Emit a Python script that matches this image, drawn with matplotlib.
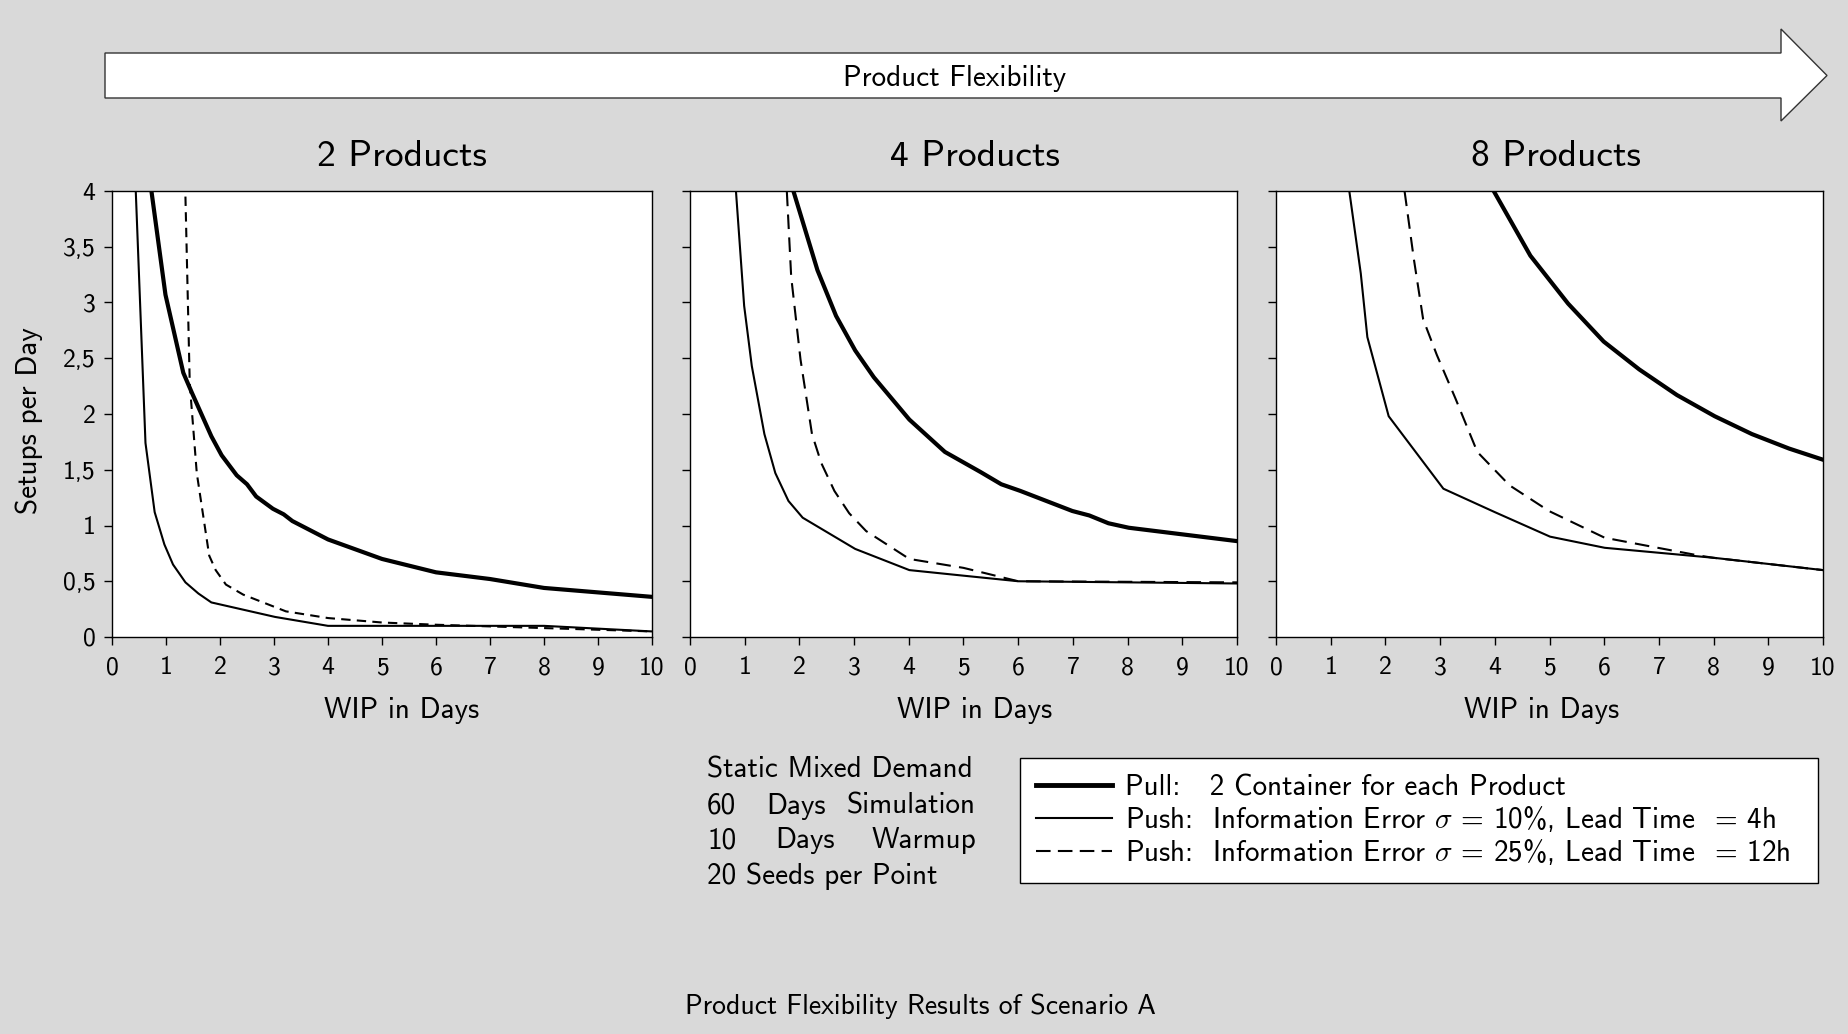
import matplotlib.pyplot as plt
from matplotlib.patches import Polygon
from matplotlib.lines import Line2D

plt.rcParams['font.family'] = ['cmss10', 'DejaVu Sans']
plt.rcParams['mathtext.fontset'] = 'cm'
plt.rcParams['axes.unicode_minus'] = False

W, H = 1849, 1034
BG = '#d9d9d9'

# panel titles and series labels
panel_titles = ['2 Products', '4 Products', '8 Products']
legend_labels = ['Pull:   2 Container for each Product',
                 r'Push:  Information Error $\sigma$ = 10%, Lead Time  = 4h',
                 r'Push:  Information Error $\sigma$ = 25%, Lead Time  = 12h']
ytick_vals = [0, 0.5, 1, 1.5, 2, 2.5, 3, 3.5, 4]
ytick_text = ['0', '0,5', '1', '1,5', '2', '2,5', '3', '3,5', '4']
xtick_vals = [0, 1, 2, 3, 4, 5, 6, 7, 8, 9, 10]

# 2 products
wip2_pull = [0.68, 0.73, 0.99, 1.32, 1.48, 1.84, 2.03, 2.31, 2.5, 2.67, 2.98, 3.18, 3.34, 4.0, 5.0, 6.0, 7.0, 8.0, 10.0]
set2_pull = [4.3, 4.0, 3.07, 2.37, 2.19, 1.80, 1.63, 1.45, 1.37, 1.26, 1.15, 1.10, 1.04, 0.875, 0.70, 0.58, 0.52, 0.44, 0.36]
wip2_p10 = [0.42, 0.44, 0.62, 0.79, 0.97, 1.13, 1.36, 1.6, 1.84, 3.02, 4.0, 8.0, 10.0]
set2_p10 = [4.3, 4.0, 1.74, 1.12, 0.83, 0.65, 0.49, 0.39, 0.31, 0.18, 0.10, 0.10, 0.05]
wip2_p25 = [1.36, 1.44, 1.57, 1.8, 1.92, 2.11, 2.43, 3.22, 4.0, 5.0, 6.0, 10.0]
set2_p25 = [3.95, 2.27, 1.47, 0.73, 0.60, 0.47, 0.38, 0.23, 0.17, 0.13, 0.11, 0.05]

# 4 products
wip4_pull = [1.85, 1.89, 2.33, 2.67, 3.02, 3.36, 4.01, 4.66, 5.31, 5.69, 6.04, 6.99, 7.3, 7.65, 8.02, 10.0]
set4_pull = [4.2, 4.0, 3.29, 2.88, 2.57, 2.33, 1.95, 1.66, 1.48, 1.37, 1.31, 1.13, 1.09, 1.02, 0.98, 0.86]
wip4_p10 = [0.83, 0.84, 0.99, 1.13, 1.36, 1.56, 1.8, 2.06, 3.02, 4.01, 5.0, 6.0, 10.0]
set4_p10 = [4.2, 4.0, 2.97, 2.43, 1.82, 1.47, 1.22, 1.07, 0.79, 0.60, 0.55, 0.50, 0.48]
wip4_p25 = [1.76, 1.77, 1.85, 2.02, 2.23, 2.4, 2.64, 2.91, 3.22, 4.01, 5.0, 6.0, 10.0]
set4_p25 = [4.2, 4.0, 3.23, 2.49, 1.82, 1.56, 1.31, 1.11, 0.95, 0.70, 0.62, 0.50, 0.49]

# 8 products
wip8_pull = [3.9, 3.98, 4.65, 5.34, 5.99, 6.64, 7.33, 8.02, 8.7, 9.38, 10.0]
set8_pull = [4.2, 4.0, 3.42, 2.99, 2.65, 2.40, 2.17, 1.98, 1.82, 1.69, 1.59]
wip8_p10 = [1.32, 1.34, 1.55, 1.67, 2.06, 3.06, 4.0, 5.01, 6.01, 8.01, 10.0]
set8_p10 = [4.2, 4.0, 3.26, 2.69, 1.98, 1.33, 1.12, 0.90, 0.80, 0.71, 0.60]
wip8_p25 = [2.34, 2.35, 2.52, 2.69, 2.94, 3.28, 3.68, 4.27, 4.99, 6.01, 6.98, 7.74, 8.0, 10.0]
set8_p25 = [4.2, 4.0, 3.39, 2.85, 2.53, 2.14, 1.66, 1.36, 1.13, 0.89, 0.80, 0.73, 0.71, 0.60]

panels = [
    (wip2_pull, set2_pull, wip2_p10, set2_p10, wip2_p25, set2_p25),
    (wip4_pull, set4_pull, wip4_p10, set4_p10, wip4_p25, set4_p25),
    (wip8_pull, set8_pull, wip8_p10, set8_p10, wip8_p25, set8_p25),
]

fig = plt.figure(figsize=(W / 100, H / 100), dpi=100, facecolor=BG)

def fx(px):
    return px / W

def fy(py):
    return 1 - py / H

# axes boxes in pixels: left, right ; shared top/bottom
ax_lr = [(112, 652), (690, 1237), (1276, 1823)]
ax_top, ax_bot = 191, 637
title_x = [402, 975, 1556]
xlabel_x = [402, 975, 1542]
dash_styles = [(0, (4.5, 3)), (0, (7, 4)), (0, (7, 4))]

for i, (l, r) in enumerate(ax_lr):
    ax = fig.add_axes([fx(l), fy(ax_bot), (r - l) / W, (ax_bot - ax_top) / H])
    ax.set_facecolor('white')
    wp, sp, w10, s10, w25, s25 = panels[i]
    ax.plot(wp, sp, color='black', lw=3.0, solid_joinstyle='round')
    ax.plot(w10, s10, color='black', lw=1.5)
    ax.plot(w25, s25, color='black', lw=1.5, linestyle=dash_styles[i])
    ax.set_xlim(0, 10)
    ax.set_ylim(0, 4)
    ax.set_xticks(xtick_vals)
    ax.set_yticks(ytick_vals)
    if i == 0:
        ax.set_yticklabels(ytick_text)
    else:
        ax.set_yticklabels([])
    ax.tick_params(direction='out', length=6, width=1, labelsize=18.5, pad=6)
    ax.tick_params(axis='x', pad=8)
    for s in ax.spines.values():
        s.set_linewidth(1)
    fig.text(fx(title_x[i]), fy(156), panel_titles[i], ha='center', va='center', fontsize=27)
    fig.text(fx(xlabel_x[i]), fy(710), 'WIP in Days', ha='center', va='center', fontsize=21)

fig.text(fx(29), fy(421), 'Setups per Day', rotation=90, ha='center', va='center', fontsize=21)

# arrow on top
arrow_pts = [(105, 53), (1781, 53), (1781, 29), (1827, 75.5), (1781, 121), (1781, 98), (105, 98)]
fig.add_artist(Polygon([(fx(x), fy(y)) for x, y in arrow_pts], closed=True,
                       transform=fig.transFigure, facecolor='white', edgecolor='#333333', lw=1))
fig.text(fx(955), fy(78), 'Product Flexibility', ha='center', va='center', fontsize=21)

# simulation info block (justified)
info_left, info_right = 707, 976
info_lines = [['Static Mixed Demand'], ['60', 'Days', 'Simulation'],
              ['10', 'Days', 'Warmup'], ['20 Seeds per Point']]
info_mid = [None, 796, 805, None]
info_y = [770, 806, 841, 876]
for words, y, mid in zip(info_lines, info_y, info_mid):
    fig.text(fx(info_left), fy(y), words[0], ha='left', va='center', fontsize=21)
    if len(words) > 1:
        fig.text(fx(mid), fy(y), words[1], ha='center', va='center', fontsize=21)
        fig.text(fx(info_right), fy(y), words[2], ha='right', va='center', fontsize=21)

# legend
handles = [Line2D([], [], color='black', lw=3.5),
           Line2D([], [], color='black', lw=1.5),
           Line2D([], [], color='black', lw=1.5, linestyle=(0, (7, 3.5)))]
leg = fig.legend(handles, legend_labels, loc='upper left',
                 bbox_to_anchor=(fx(1020), fy(883), (1818 - 1020) / W, (883 - 758) / H),
                 mode='expand', fontsize=21, frameon=True, fancybox=False, framealpha=1,
                 handlelength=2.6, handletextpad=0.45, labelspacing=0.1,
                 borderpad=0.55, borderaxespad=0)
leg.get_frame().set_edgecolor('black')
leg.get_frame().set_linewidth(1)
leg.get_frame().set_facecolor('white')

fig.text(fx(920), fy(1006), 'Product Flexibility Results of Scenario A', ha='center', va='center', fontsize=20)

fig.savefig('out.png', dpi=100, facecolor=BG)
